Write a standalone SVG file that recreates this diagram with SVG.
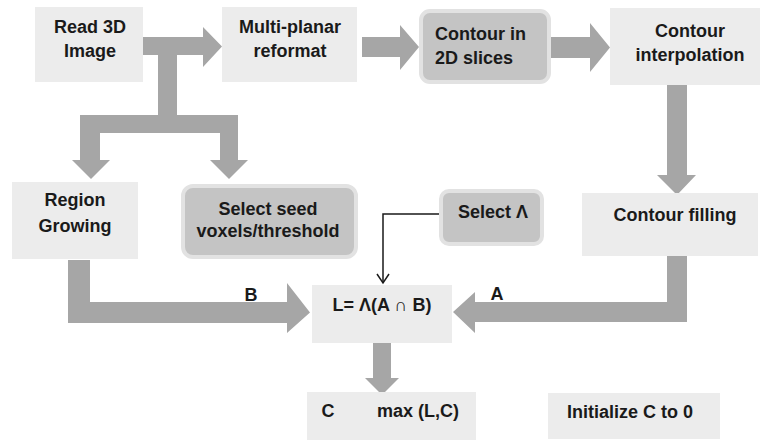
<svg xmlns="http://www.w3.org/2000/svg" width="760" height="441" viewBox="0 0 760 441">
<defs>
<style>
.n{fill:#ececec}
.d{fill:#c4c4c4;stroke:#e2e2e2;stroke-width:4}
.t{font-family:"Liberation Sans",Arial,sans-serif;font-weight:bold;font-size:18px;fill:#1a1a1a;text-anchor:middle}
.ar{fill:#a6a6a6}
.thin{fill:none;stroke:#1a1a1a;stroke-width:1.5}
</style>
<marker id="v" markerWidth="14" markerHeight="14" refX="12" refY="7" orient="auto" markerUnits="userSpaceOnUse" viewBox="0 0 14 14">
<path d="M3,1 L12,7 L3,13" fill="none" stroke="#1a1a1a" stroke-width="1.5"/>
</marker>
</defs>
<rect width="760" height="441" fill="#ffffff"/>
<g id="connectors">
<path class="ar" d="M143,37 H203 V27 L222,46.5 L203,67 V55 H177 V115 H238 V160 H248 L229,179 L210,160 H220 V133 H100 V160 H110 L91,179 L72,160 H80 V115 H158 V55 H143 Z"/>
<path class="ar" d="M362,37 H400 V25 L419,47 L400,70 V57 H362 Z"/>
<path class="ar" d="M550,37 H590 V23 L610,47.5 L590,72 V58 H550 Z"/>
<path class="ar" d="M667,85 H687 V175 H696 L677,195 L657,175 H667 Z"/>
<path class="ar" d="M68,260 H90 V302 H287 V283 L310,312.5 L287,333 V323 H68 Z"/>
<path class="ar" d="M687,256 V322 H475 V333 L453,312 L475,292 V302 H667 V256 Z"/>
<path class="ar" d="M373,343 H391 V378 H399 L382,395 L365,378 H373 Z"/>
<polyline class="thin" points="439,214 383,214 383,283" marker-end="url(#v)"/>
<text class="t" x="251" y="301">B</text>
<text class="t" x="497" y="300">A</text>
</g>
<g id="read3d">
<rect class="n" x="35" y="7" width="108" height="75"/>
<text class="t" x="90" y="33">Read 3D</text>
<text class="t" x="90" y="57">Image</text>
</g>
<g id="multiplanar">
<rect class="n" x="222" y="7" width="135" height="75"/>
<text class="t" x="290" y="33">Multi-planar</text>
<text class="t" x="290" y="57">reformat</text>
</g>
<g id="contour2d">
<rect class="d" x="421" y="11" width="128" height="71" rx="9"/>
<text class="t" x="435" y="40" style="text-anchor:start">Contour in</text>
<text class="t" x="435" y="64" style="text-anchor:start">2D slices</text>
</g>
<g id="interp">
<rect class="n" x="610" y="8" width="150" height="77"/>
<text class="t" x="690" y="37">Contour</text>
<text class="t" x="690" y="61">interpolation</text>
</g>
<g id="region">
<rect class="n" x="12" y="182" width="126" height="77"/>
<text class="t" x="75" y="206">Region</text>
<text class="t" x="75" y="232">Growing</text>
</g>
<g id="seed">
<rect class="d" x="183" y="186" width="173" height="71" rx="10"/>
<text class="t" x="268" y="215">Select seed</text>
<text class="t" x="268" y="237">voxels/threshold</text>
</g>
<g id="selectlambda">
<rect class="d" x="441" y="191" width="101" height="53" rx="8"/>
<text class="t" x="493" y="218">Select Λ</text>
</g>
<g id="filling">
<rect class="n" x="582" y="193" width="176" height="63"/>
<text class="t" x="675" y="221">Contour filling</text>
</g>
<g id="lbox">
<rect class="n" x="312" y="285" width="140" height="58"/>
<text class="t" x="382" y="311">L= Λ(A ∩ B)</text>
</g>
<g id="cbox">
<rect class="n" x="307" y="392" width="169" height="48"/>
<text class="t" x="328" y="417">C</text>
<text class="t" x="418" y="417">max (L,C)</text>
</g>
<g id="init">
<rect class="n" x="548" y="393" width="172" height="46"/>
<text class="t" x="630" y="418">Initialize C to 0</text>
</g>
</svg>
